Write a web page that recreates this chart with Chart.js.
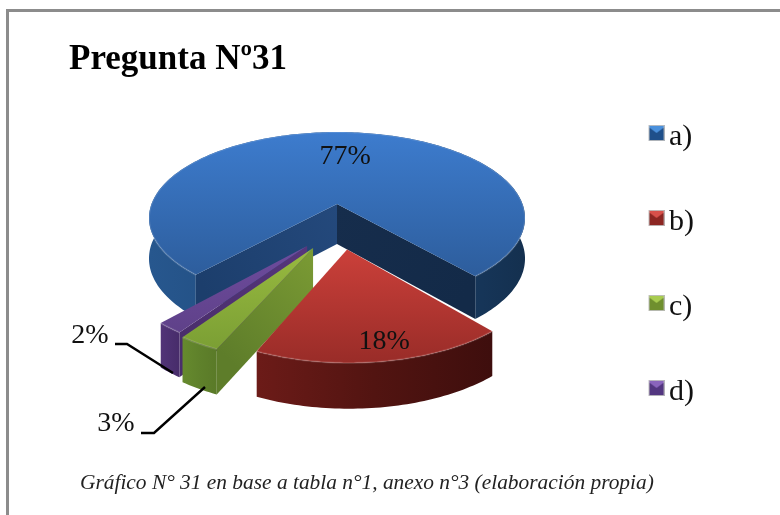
<!DOCTYPE html>
<html>
<head>
<meta charset="utf-8">
<script src="https://cdn.jsdelivr.net/npm/chart.js@4"></script>
<style>
html,body{margin:0;padding:0;background:#fff;overflow:hidden}
#wrap{width:780px;height:515px;position:relative}
canvas{display:block;filter:blur(0.5px)}
</style>
</head>
<body>
<div id="wrap"><canvas id="c" width="780" height="515"></canvas></div>
<script>
const categories = ['a)', 'b)', 'c)', 'd)'];
const values = [77, 18, 3, 2];
const titleText = 'Pregunta Nº31';
const captionText = 'Gráfico N° 31 en base a tabla n°1, anexo n°3 (elaboración propia)';

const topColors = [['#3d7cce', '#2d5d9c'], ['#cb403a', '#992c28'], ['#98ba40', '#7b9f34'], ['#6e4c9e', '#5f4189']];
const wallColors = [['#27578e', '#1d4676', '#14304f'], ['#6c1b18', '#521411', '#3e0e0d'], ['#668a2e', '#5f812b', '#5a7a28'], ['#523478', '#4c3071', '#472c6a']];
const cutColors = [['#1c3e6c', '#24497c'], ['#152c4a', '#172f4f'], ['#5e7d2a', '#7b9b34'], ['#4a2e6c', '#56367c']];

// 3D projection of the pie's unit disc on the page
const view = {cx: 337, cy: 204, A: 185.5, B: 83.7, k: 0.163, depth: 40};
const explode = [[0, 0], [0.05, 0.5], [-0.119, 0.484], [-0.149, 0.464]];
const radii = [1, 0.95, 0.95, 0.93];
const drawOrder = [0, 3, 2, 1];
const insideLabelRadius = [0.65, 0.8];
const insideLabelShift = [[7, 2], [8, 1]];
const outsideLabels = {
  2: {x: 116, y: 424, line: [[141, 433], [154, 433], [205, 387]]},
  3: {x: 90, y: 336, line: [[115, 344], [127, 344], [173, 373]]}
};

function project(u, v, down) {
  const w = 1 - view.k * v;
  const d = down ? view.depth * Math.pow(w, -0.5) : 0;
  return [view.cx + u * view.A / w, view.cy + v * view.B / w + d];
}
function pathOf(ctx, pts) {
  ctx.beginPath();
  pts.forEach((p, i) => i ? ctx.lineTo(p[0], p[1]) : ctx.moveTo(p[0], p[1]));
  ctx.closePath();
}
function linGrad(ctx, x0, y0, x1, y1, cols) {
  const g = ctx.createLinearGradient(x0, y0, x1, y1);
  cols.forEach((c, i) => g.addColorStop(cols.length > 1 ? i / (cols.length - 1) : 0, c));
  return g;
}
function icon(cols) {
  // transparent margins on the left and bottom nudge the swatch against its label
  const s = 16, cv = document.createElement('canvas');
  cv.width = s + 6; cv.height = s + 8;
  const c = cv.getContext('2d');
  c.translate(6, 0);
  c.fillStyle = cols[0]; c.fillRect(0, 0, s, s);
  c.fillStyle = cols[1];
  pathOf(c, [[0, s], [s, s], [s, 2], [s / 2, 8], [0, 2]]); c.fill();
  c.strokeStyle = 'rgba(190,190,190,.9)'; c.lineWidth = 1;
  c.strokeRect(0.5, 0.5, s - 1, s - 1);
  return cv;
}
const iconColors = [['#4a90dc', '#1f4f8a'], ['#d8504a', '#8c2622'], ['#a8cc50', '#6f8f2e'], ['#8a64bc', '#533680']];

const pie3d = {
  id: 'pie3d',
  beforeDraw(chart) {
    const ctx = chart.ctx;
    ctx.save();
    ctx.fillStyle = '#8c8c8c';
    ctx.fillRect(6, 9, 774, 3);
    ctx.fillRect(6, 9, 3, 506);
    ctx.restore();
  },
  afterLayout(chart) {
    const sub = chart.boxes.find(b => b.options && b.options.text === captionText);
    if (sub) { sub.left = 80; sub.right = 700; }
    chart.legend.top -= 8;
    chart.legend.bottom -= 8;
  },
  beforeDatasetsDraw(chart) {
    const ctx = chart.ctx;
    const arcs = chart.getDatasetMeta(0).data;
    ctx.save();
    drawOrder.forEach(i => {
      const a0 = arcs[i].startAngle, a1 = arcs[i].endAngle;
      const r = radii[i], e = explode[i];
      const n = Math.max(6, Math.ceil((a1 - a0) / 0.02));
      const rim = [], rimB = [];
      for (let s = 0; s <= n; s++) {
        const a = a0 + (a1 - a0) * s / n;
        const u = e[0] + r * Math.cos(a), v = e[1] + r * Math.sin(a);
        rim.push(project(u, v, false));
        rimB.push(project(u, v, true));
      }
      const apex = project(e[0], e[1], false), apexB = project(e[0], e[1], true);
      const xs = rim.map(p => p[0]), ys = rim.map(p => p[1]).concat(apex[1]);
      const minX = Math.min(...xs), maxX = Math.max(...xs), minY = Math.min(...ys), maxY = Math.max(...ys);
      // outer wall
      pathOf(ctx, rim.concat(rimB.slice().reverse()));
      ctx.fillStyle = linGrad(ctx, minX, 0, maxX, 0, wallColors[i]);
      ctx.fill();
      // cut faces that look towards the viewer
      if (-Math.cos(a0) > 0) {
        pathOf(ctx, [apex, rim[0], rimB[0], apexB]);
        ctx.fillStyle = linGrad(ctx, rim[0][0], rim[0][1], apex[0], apex[1], cutColors[i]);
        ctx.fill();
      }
      if (Math.cos(a1) > 0) {
        pathOf(ctx, [apex, rim[n], rimB[n], apexB]);
        ctx.fillStyle = linGrad(ctx, rim[n][0], rim[n][1], apex[0], apex[1], i === 0 ? ['#132a48', '#162d4c'] : cutColors[i]);
        ctx.fill();
      }
      // top face
      pathOf(ctx, [apex].concat(rim));
      ctx.fillStyle = linGrad(ctx, 0, minY, 0, maxY, topColors[i]);
      ctx.fill();
      ctx.beginPath();
      rim.forEach((p, k) => k ? ctx.lineTo(p[0], p[1]) : ctx.moveTo(p[0], p[1]));
      ctx.strokeStyle = 'rgba(255,255,255,.13)';
      ctx.lineWidth = 2;
      ctx.stroke();
    });
    // value labels
    ctx.font = '28px "Liberation Serif"';
    ctx.fillStyle = '#111';
    ctx.textAlign = 'center';
    ctx.textBaseline = 'middle';
    values.forEach((val, i) => {
      const txt = val + '%';
      if (outsideLabels[i]) {
        const o = outsideLabels[i];
        ctx.fillText(txt, o.x, o.y);
        ctx.beginPath();
        o.line.forEach((p, k) => k ? ctx.lineTo(p[0], p[1]) : ctx.moveTo(p[0], p[1]));
        ctx.strokeStyle = '#000';
        ctx.lineWidth = 2.4;
        ctx.stroke();
      } else {
        const mid = (arcs[i].startAngle + arcs[i].endAngle) / 2;
        const lr = insideLabelRadius[i];
        const p = project(explode[i][0] + lr * Math.cos(mid), explode[i][1] + lr * Math.sin(mid), false);
        ctx.fillText(txt, p[0] + insideLabelShift[i][0], p[1] + insideLabelShift[i][1]);
      }
    });
    ctx.restore();
    return false;
  }
};

new Chart(document.getElementById('c'), {
  type: 'pie',
  data: {
    labels: categories,
    datasets: [{data: values, backgroundColor: topColors.map(c => c[0]), borderWidth: 0}]
  },
  options: {
    responsive: false,
    animation: false,
    rotation: 222,
    layout: {padding: {left: 69, right: 76, top: 39, bottom: 9}},
    plugins: {
      tooltip: {enabled: false},
      title: {
        display: true, text: titleText, align: 'start', color: '#000',
        font: {family: '"Liberation Serif"', size: 35, weight: 'bold'},
        padding: {top: 0, bottom: 0}
      },
      subtitle: {
        display: true, text: captionText, position: 'bottom', align: 'start', color: '#222',
        font: {family: '"Liberation Serif"', size: 21.4, style: 'italic', weight: 'normal'},
        padding: {top: 33, bottom: 10}
      },
      legend: {
        display: true, position: 'right',
        labels: {
          usePointStyle: true, boxWidth: 1, padding: 55, color: '#111',
          font: {family: '"Liberation Serif"', size: 30},
          generateLabels(chart) {
            return categories.map((t, i) => ({
              text: t, pointStyle: icon(iconColors[i]), fontColor: '#111',
              fillStyle: topColors[i][0], strokeStyle: 'transparent', lineWidth: 0, index: i
            }));
          }
        }
      }
    }
  },
  plugins: [pie3d]
});
</script>
</body>
</html>
